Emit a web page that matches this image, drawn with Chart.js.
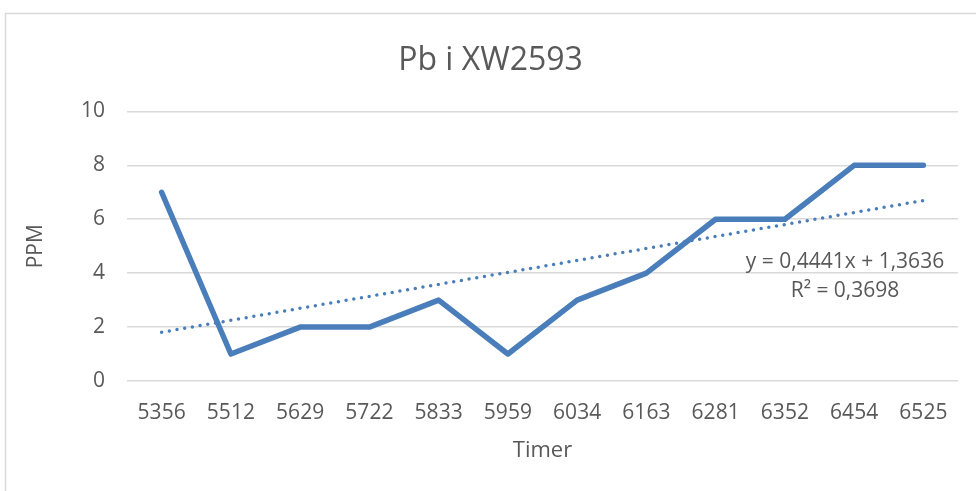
<!DOCTYPE html>
<html>
<head>
<meta charset="utf-8">
<script src="https://cdn.jsdelivr.net/npm/chart.js@4"></script>
<style>
  html, body { margin: 0; padding: 0; background: #ffffff; }
  #wrap { position: relative; width: 976px; height: 491px; }
</style>
</head>
<body>
<div id="wrap"><canvas id="chart" width="976" height="491"></canvas></div>
<script>
// Measurement timestamps (hours) and lead content in ppm
const timer = ['5356', '5512', '5629', '5722', '5833', '5959', '6034', '6163', '6281', '6352', '6454', '6525'];
const pbPpm = [7, 1, 2, 2, 3, 1, 3, 4, 6, 6, 8, 8];
const yTicks = [0, 2, 4, 6, 8, 10];

// Linear trend as reported in the equation label (x = 1..n)
const trendSlope = 0.4441;
const trendIntercept = 1.3636;
const trendLabel = ['y = 0,4441x + 1,3636', 'R² = 0,3698'];

// Trend line only needs its two end points; the line spans the gaps.
const trendData = timer.map((_, i) =>
  (i === 0 || i === timer.length - 1) ? trendSlope * (i + 1) + trendIntercept : null);

const textColor = '#595959';
const gridColor = '#d9d9d9';
const seriesColor = '#4A7EBB';
const fontFamily = "'Open Sans', 'Liberation Sans', sans-serif";

const frame = {
  id: 'frame',
  beforeDraw(chart) {
    const ctx = chart.ctx;
    ctx.save();
    ctx.fillStyle = '#ffffff';
    ctx.fillRect(0, 0, chart.width, chart.height);
    ctx.strokeStyle = gridColor;
    ctx.lineWidth = 1.5;
    ctx.strokeRect(5.5, 13.5, 1100, 1100);
    ctx.restore();
  }
};

const trendText = {
  id: 'trendText',
  afterDatasetsDraw(chart) {
    const ctx = chart.ctx;
    const area = chart.chartArea;
    ctx.save();
    ctx.fillStyle = textColor;
    ctx.font = '21px ' + fontFamily;
    ctx.textAlign = 'center';
    ctx.textBaseline = 'middle';
    const cx = area.right - 113;
    ctx.fillText(trendLabel[0], cx, area.top + 151);
    ctx.fillText(trendLabel[1], cx, area.top + 180);
    ctx.restore();
  }
};

new Chart(document.getElementById('chart'), {
  type: 'line',
  data: {
    labels: timer,
    datasets: [
      {
        label: 'Pb',
        data: pbPpm,
        borderColor: seriesColor,
        backgroundColor: seriesColor,
        borderWidth: 5.5,
        borderJoinStyle: 'round',
        borderCapStyle: 'round',
        pointRadius: 0,
        tension: 0
      },
      {
        label: 'Lineær (Pb)',
        data: trendData,
        spanGaps: true,
        borderColor: seriesColor,
        borderWidth: 3.5,
        borderDash: [0, 7.8],
        borderCapStyle: 'round',
        pointRadius: 0,
        tension: 0
      }
    ]
  },
  options: {
    responsive: false,
    animation: false,
    events: [],
    layout: { padding: { left: 23, right: 18, top: 0, bottom: 0 } },
    plugins: {
      legend: { display: false },
      tooltip: { enabled: false },
      title: {
        display: true,
        text: 'Pb i XW2593',
        color: textColor,
        font: { family: fontFamily, size: 32, weight: 'normal', lineHeight: 1.2 },
        padding: { top: 42, bottom: 31 }
      }
    },
    scales: {
      x: {
        offset: true,
        grid: { display: false, drawTicks: false },
        border: { display: false },
        ticks: {
          color: textColor,
          font: { family: fontFamily, size: 21 },
          padding: 19,
          maxRotation: 0,
          autoSkip: false
        },
        title: {
          display: true,
          text: 'Timer',
          color: textColor,
          font: { family: fontFamily, size: 22 },
          padding: { top: 0, bottom: 27 }
        },
        afterFit(scale) { scale.height = 110; }
      },
      y: {
        min: 0,
        max: 10,
        afterBuildTicks(scale) { scale.ticks = yTicks.map(v => ({ value: v })); },
        grid: { color: gridColor, lineWidth: 1.5, drawTicks: false },
        border: { display: false },
        ticks: {
          color: textColor,
          font: { family: fontFamily, size: 21 },
          padding: 22
        },
        title: {
          display: true,
          text: 'PPM',
          color: textColor,
          font: { family: fontFamily, size: 21 },
          padding: { top: 0, bottom: 0 }
        },
        afterFit(scale) { scale.width = 104; }
      }
    }
  },
  plugins: [frame, trendText]
});
</script>
</body>
</html>
